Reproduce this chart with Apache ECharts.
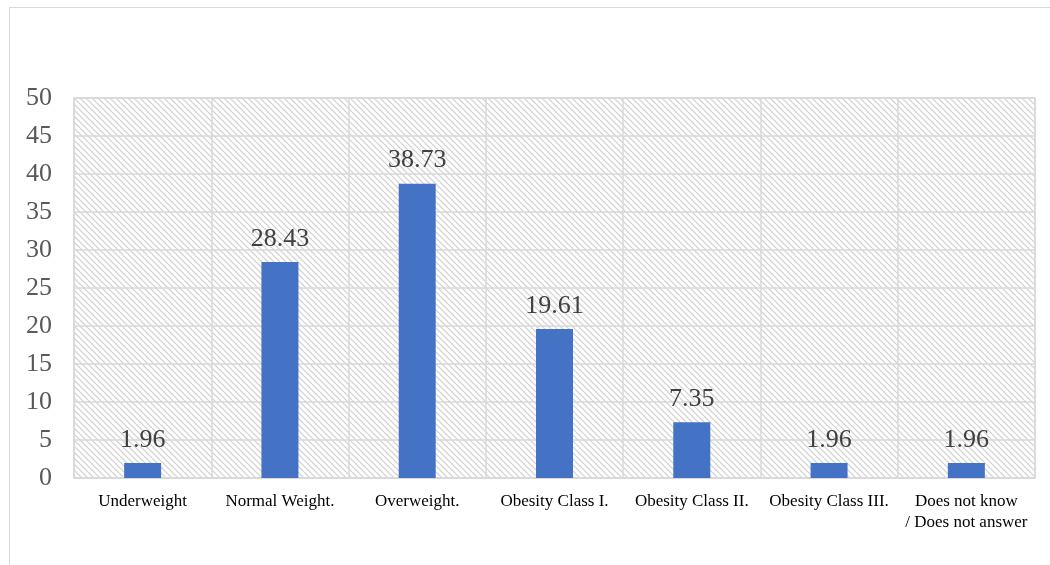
<!DOCTYPE html>
<html><head><meta charset="utf-8">
<script src="https://cdn.jsdelivr.net/npm/echarts@6/dist/echarts.min.js"></script>
<style>html,body{margin:0;padding:0;background:#fff}#c{width:1050px;height:565px;position:relative}
#frame{position:absolute;left:9px;top:7px;width:1050px;height:600px;border-left:1.5px solid #d9d9d9;border-top:1.5px solid #d9d9d9;pointer-events:none}</style>
</head><body>
<div id="c"></div><div id="frame"></div>
<script>
const categories = ['Underweight', 'Normal Weight.', 'Overweight.', 'Obesity Class I.', 'Obesity Class II.', 'Obesity Class III.', 'Does not know\n/ Does not answer'];
const values = [1.96, 28.43, 38.73, 19.61, 7.35, 1.96, 1.96];
const yTicks = [0, 5, 10, 15, 20, 25, 30, 35, 40, 45, 50];

const pc = document.createElement('canvas');
pc.width = 6; pc.height = 6;
const g = pc.getContext('2d');
g.fillStyle = '#ffffff'; g.fillRect(0,0,6,6);
g.strokeStyle = '#cfcfcf'; g.lineWidth = 1.2;
g.beginPath();
g.moveTo(-1,-1); g.lineTo(7,7);
g.moveTo(-4,2); g.lineTo(4,10);
g.moveTo(2,-4); g.lineTo(10,4);
g.stroke();

const chart = echarts.init(document.getElementById('c'), null, {renderer:'canvas'});
chart.setOption({
  animation: false,
  grid: {left: 74, right: 15, top: 98, bottom: 87, show: true,
    backgroundColor: {image: pc, repeat: 'repeat'}, borderColor: '#d9d9d9', borderWidth: 1.5},
  xAxis: {type: 'category', data: categories,
    axisLine: {show: true, lineStyle: {color: '#d9d9d9', width: 1.5}},
    axisTick: {show: false},
    splitLine: {show: true, lineStyle: {color: '#d9d9d9', width: 1.5}},
    axisLabel: {interval: 0, fontFamily: 'Liberation Serif', fontSize: 17, color: '#000', margin: 13, lineHeight: 21}},
  yAxis: {type: 'value', min: yTicks[0], max: yTicks[yTicks.length-1], interval: 5,
    axisLine: {show: false}, axisTick: {show: false},
    splitLine: {lineStyle: {color: '#d9d9d9', width: 1.5}},
    axisLabel: {fontFamily: 'Liberation Serif', fontSize: 26, color: '#595959', margin: 22}},
  series: [{type: 'bar', data: values, barWidth: 37,
    itemStyle: {color: '#4472C4'},
    label: {show: true, position: 'top', distance: 10, fontFamily: 'Liberation Serif', fontSize: 26, color: '#404040'}}]
});
</script>
</body></html>
